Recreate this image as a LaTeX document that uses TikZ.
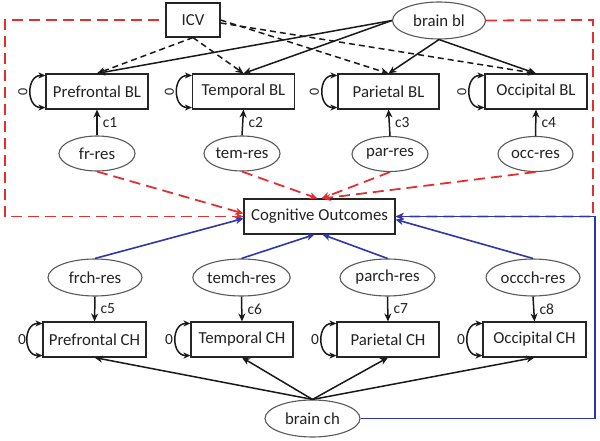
\documentclass[tikz,border=0pt]{standalone}
\usepackage{fontspec}
\setmainfont{Carlito}
\usetikzlibrary{arrows.meta,shapes.geometric,calc}
\definecolor{rd}{RGB}{226,48,48}
\definecolor{bl}{RGB}{45,55,170}
\definecolor{tx}{RGB}{35,35,35}
\begin{document}
\begin{tikzpicture}[x=1pt,y=-1pt,
  font=\fontsize{16.8}{19}\selectfont,
  box/.style={draw=black!85,line width=1.1pt,fill=white,minimum width=#1,minimum height=35pt,inner sep=0pt,text=tx},
  box/.default=102pt,
  ell/.style={ellipse,draw=black!65,line width=1.1pt,fill=white,minimum width=#1,minimum height=37pt,inner sep=0pt,text=tx},
  ell/.default=94pt,
  tip/.style={-{Stealth[length=8pt,width=7pt,inset=2.5pt]}},
  blk/.style={tip,draw=black!90,line width=1.5pt},
  blkd/.style={blk,dash pattern=on 6pt off 4pt},
  rdd/.style={tip,draw=rd,line width=1.8pt,dash pattern=on 11pt off 6pt},
  blu/.style={tip,draw=bl,line width=1.6pt},
  lbl/.style={font=\fontsize{15.5}{17}\selectfont,text=tx,inner sep=1pt},
  zlbl/.style={font=\fontsize{14}{16}\selectfont,text=tx,inner sep=0pt},
  selfl/.style={{Stealth[length=7pt,width=6pt,inset=2pt]}-{Stealth[length=7pt,width=6pt,inset=2pt]},draw=black!90,line width=1.5pt,out=180,in=180,looseness=1.55}
]
\useasboundingbox (0,0) rectangle (600,441);

% top row
\node[box=54pt,minimum height=34pt] (icv) at (193,20) {ICV};
\node[ell=93pt] (bbl) at (439,20.5) {brain bl};

\node[box] (pfbl) at (97,91.5) {Prefrontal BL};
\node[box] (tbl) at (243.5,91.5) {Temporal BL};
\node[box=101pt] (pbl) at (388.5,91.5) {Parietal BL};
\node[box] (obl) at (536,91.5) {Occipital BL};

\node[ell=76pt,minimum height=35pt] (frres) at (97,153.5) {fr-res};
\node[ell=76pt,minimum height=35pt] (temres) at (242,153.5) {tem-res};
\node[ell=76pt,minimum height=35pt] (parres) at (390,154) {par-res};
\node[ell=75pt,minimum height=35pt] (occres) at (535.5,154) {occ-res};

\node[box=151pt] (co) at (319.5,216.5) {Cognitive Outcomes};

\node[ell=94pt] (frch) at (95,277.5) {frch-res};
\node[ell=95pt] (temch) at (241.5,277.5) {temch-res};
\node[ell=95pt] (parch) at (387.5,277.5) {parch-res};
\node[ell=94pt] (occch) at (533,277.5) {occch-res};

\node[box=103pt] (pfch) at (94.5,339.5) {Prefrontal CH};
\node[box] (tch) at (242,339.5) {Temporal CH};
\node[box] (pch) at (388,339.5) {Parietal CH};
\node[box=103pt] (och) at (534.5,339.5) {Occipital CH};

\node[ell=95pt] (bch) at (312.5,418.5) {brain ch};

% frame coordinates
\coordinate (fl1) at (5,20);
\coordinate (fr1) at (593,20);
\coordinate (br1) at (595,418.5);

% self loops and zero labels
\foreach \n in {pfbl,tbl,pbl,obl,pfch,tch,pch,och}{
  \draw[selfl] ([yshift=-2pt]\n.north west) to ([yshift=2pt]\n.south west);
}
\node[zlbl,rotate=90] (z1) at (23,91.5) {0};
\node[zlbl,rotate=90] (z2) at (169.5,91.5) {0};
\node[zlbl,rotate=90] (z3) at (314.5,91.5) {0};
\node[zlbl,rotate=90] (z4) at (462,91.5) {0};
\node[lbl,inner sep=0pt] (z5) at (22,339.5) {0};
\node[lbl,inner sep=0pt] (z6) at (169,339.5) {0};
\node[lbl,inner sep=0pt] (z7) at (315,339.5) {0};
\node[lbl,inner sep=0pt] (z8) at (461,339.5) {0};

% red dashed frame and arrows
\draw[rdd,dash phase=11pt] (icv.west) -- (fl1) |- (co.west);
\draw[rdd] (bbl.east) -- (fr1) |- (co.east);
\draw[rdd] (frres.south) -- ([yshift=3pt]co.west);
\draw[rdd] (temres.south) -- ([xshift=-2pt]co.north);
\draw[rdd] (parres.south) -- ([xshift=2pt]co.north);
\draw[rdd] (occres.south) -- ([xshift=3pt]co.north);

% ICV dashed arrows
\draw[blkd] (icv.south) -- (pfbl.north);
\draw[blkd] (icv.south) -- (tbl.north);
\draw[blkd] (icv.east) -- (pbl.north);
\draw[blkd] ([yshift=-3pt]icv.east) -- (obl.north);

% brain bl arrows
\draw[blk] (bbl.west) -- (pfbl.north);
\draw[blk] (bbl.west) -- (tbl.north);
\draw[blk] (bbl.south) -- (pbl.north);
\draw[blk] (bbl.south) -- (obl.north);

% residual arrows
\draw[blk] (frres.north) -- (pfbl.south) node[lbl,midway,right=4pt] (c1) {c1};
\draw[blk] (temres.north) -- (tbl.south) node[lbl,midway,right=4pt] (c2) {c2};
\draw[blk] (parres.north) -- (pbl.south) node[lbl,midway,right=4pt] (c3) {c3};
\draw[blk] (occres.north) -- (obl.south) node[lbl,midway,right=4pt] (c4) {c4};
\draw[blk] (frch.south) -- (pfch.north) node[lbl,midway,right=4pt] (c5) {c5};
\draw[blk] (temch.south) -- (tch.north) node[lbl,midway,right=4pt] (c6) {c6};
\draw[blk] (parch.south) -- (pch.north) node[lbl,midway,right=4pt] (c7) {c7};
\draw[blk] (occch.south) -- (och.north) node[lbl,midway,right=4pt] (c8) {c8};

% blue arrows
\draw[blu] (frch.north) -- ([yshift=-2pt]co.west);
\draw[blu] (temch.north) -- ([xshift=-5pt]co.south);
\draw[blu] (parch.north) -- ([xshift=3pt]co.south);
\draw[blu] (occch.north) -- ([yshift=-3pt]co.east);
\draw[blu] (bch.east) -- (br1) |- (co.east);

% brain ch arrows
\draw[blk] (bch.north) -- (pfch.south);
\draw[blk] (bch.north) -- (tch.south);
\draw[blk] (bch.north) -- (pch.south);
\draw[blk] (bch.north) -- (och.south);
\end{tikzpicture}
\end{document}
